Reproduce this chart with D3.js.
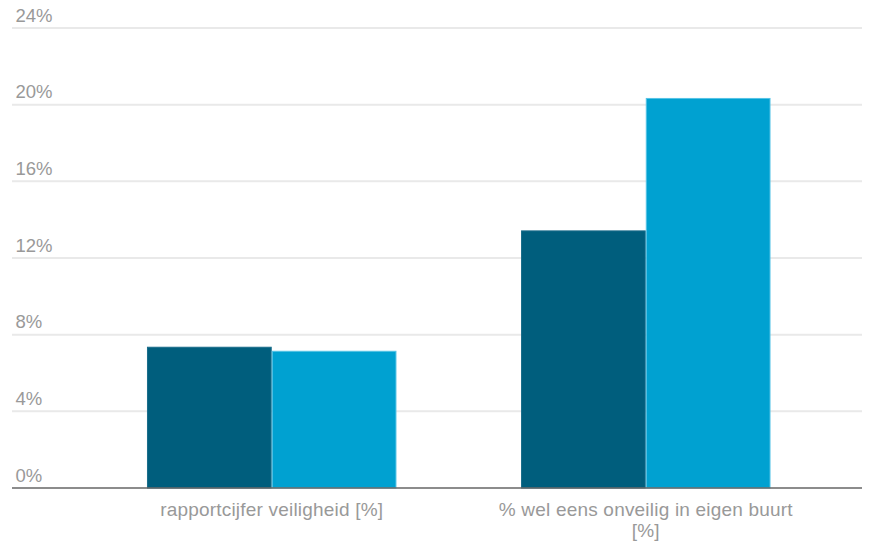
<!DOCTYPE html>
<html><head><meta charset="utf-8">
<script src="https://cdn.jsdelivr.net/npm/d3@7"></script>
<style>
html,body{margin:0;padding:0;background:#fff;}
svg{display:block;font-family:"Liberation Sans",Arial,sans-serif;}
</style></head>
<body><svg id="c" width="875" height="542"></svg>
<script>
const categories = ["rapportcijfer veiligheid [%]", "% wel eens onveilig in eigen buurt [%]"];
const categoryLines = [["rapportcijfer veiligheid [%]"], ["% wel eens onveilig in eigen buurt", "[%]"]];
const seriesNames = ["serie 1", "serie 2"];
const series1 = [7.37, 13.44];
const series2 = [7.16, 20.35];
const yTicks = [0, 4, 8, 12, 16, 20, 24];
const colors = ["#005e7d", "#00a1d1"];
const strokes = ["#1a6d8a", "#55c3e6"];

const svg = d3.select("#c");
const y = d3.scaleLinear().domain([0, 24]).range([488, 28]);
const x0 = d3.scaleBand().domain(categories).range([84.7, 832.8]).paddingInner(0.333).paddingOuter(0.1665);
const x1 = d3.scaleBand().domain(seriesNames).range([0, x0.bandwidth()]);

// gridlines
svg.append("g").selectAll("line").data(yTicks.filter(t => t > 0)).join("line")
  .attr("x1", 12).attr("x2", 862)
  .attr("y1", d => y(d)).attr("y2", d => y(d))
  .attr("stroke", "#e9e9e9").attr("stroke-width", 2);

// y tick labels
svg.append("g").selectAll("text").data(yTicks).join("text")
  .attr("x", 15.5).attr("y", d => y(d) - 6.5)
  .attr("fill", "#999").attr("font-size", 18.5)
  .text(d => d + "%");

// bars
const data = categories.map((c, i) => ({c, vals: [series1[i], series2[i]]}));
const g = svg.append("g").selectAll("g").data(data).join("g")
  .attr("transform", d => `translate(${x0(d.c)},0)`);
g.selectAll("rect").data(d => d.vals.map((v, j) => ({v, s: seriesNames[j], j}))).join("rect")
  .attr("x", d => x1(d.s) + 0.5)
  .attr("width", x1.bandwidth() - 1)
  .attr("y", d => y(d.v) + 0.5)
  .attr("height", d => y(0) - y(d.v) - 0.5)
  .attr("fill", d => colors[d.j])
  .attr("stroke", d => strokes[d.j]).attr("stroke-width", 1);

// x axis line
svg.append("line").attr("x1", 12).attr("x2", 862).attr("y1", y(0)).attr("y2", y(0))
  .attr("stroke", "#666").attr("stroke-width", 1.5);

// category labels
const lab = svg.append("g").selectAll("text").data(categories).join("text")
  .attr("text-anchor", "middle").attr("fill", "#999").attr("font-size", 19)
  .attr("letter-spacing", 0.2)
  .attr("transform", d => `translate(${x0(d) + x0.bandwidth() / 2},516)`);
lab.each(function(d, i) {
  d3.select(this).selectAll("tspan").data(categoryLines[i]).join("tspan")
    .attr("x", 0).attr("dy", (t, k) => k === 0 ? 0 : 21).text(t => t);
});
</script></body></html>
